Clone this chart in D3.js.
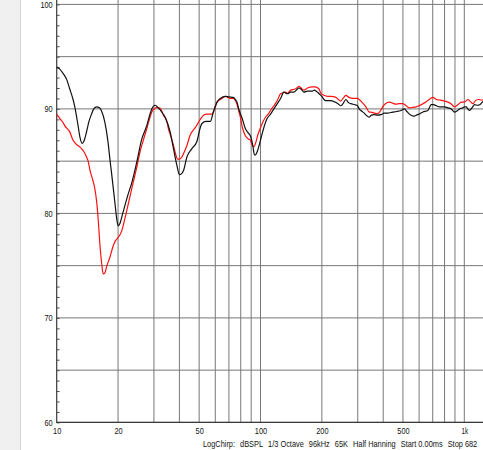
<!DOCTYPE html>
<html><head><meta charset="utf-8">
<script src="https://cdn.jsdelivr.net/npm/d3@7"></script>
<style>html,body{margin:0;padding:0;background:#fff;}svg{display:block;}</style>
</head><body>
<svg id="chart" width="483" height="450"></svg>
<script>
// ---- data ----
const freqBlack = [10,10.35,10.74,11.2,11.59,12.03,12.27,12.73,13.0,13.32,13.6,14.01,14.4,14.82,15.2,15.69,16.2,16.6,17.24,17.89,18.24,18.6,19.31,19.7,20.04,20.4,20.83,21.5,22.38,23.33,24.7,26.14,27.66,28.5,29.28,30.4,31.55,32.8,34.04,36.03,37.41,38.88,40.04,41.0,41.91,43.54,46.08,48.78,50.61,51.6,54.0,56.71,58.68,61.2,63.53,67.24,70,73.62,75.3,76.77,78.18,81.26,84.36,87.0,89.29,91.66,93.42,94.5,96.32,100,103.8,107.9,112,116.3,120.9,125.5,130.3,135.4,140.5,145.9,150,154.4,158,163.4,169.8,175,179.8,183.1,188,193.8,200,205,209,220,229.7,240,247.8,254,262.3,270,277.6,290,299.5,305,313,322.8,330,341.6,350,361.5,375.8,390.1,405,420.9,445.5,465,489.4,508,520,537.7,555,569.2,580.2,600,626.1,662.6,687.8,706.1,730,755.6,799.8,830,862.9,895.7,913.2,948,980,1003,1023,1040,1062,1090,1124,1160,1190,1236,1259,1300];
const dbBlack = [94.0,93.8,93.4,92.8,91.9,90.9,90.2,88.4,87.3,86.7,86.9,87.8,88.8,89.5,90.0,90.2,90.1,89.8,88.7,86.7,85.2,83.8,81.0,79.5,78.8,79.0,79.6,80.6,81.8,82.9,84.9,87.1,88.4,89.3,90.0,90.35,90.1,89.7,89.2,87.8,86.2,84.6,83.7,83.8,84.1,85.4,86.2,86.9,88.2,88.6,88.8,88.8,89.7,90.65,91.0,91.2,91.15,91.1,90.9,90.6,90.0,89.1,88.1,87.7,87.4,86.5,85.6,85.6,85.9,87.0,88.2,89.1,89.5,90.0,90.5,91.0,91.6,91.45,91.6,91.6,91.8,92.0,91.9,91.6,91.7,91.7,91.7,91.8,91.7,91.45,91.2,90.9,90.8,90.8,90.7,90.5,90.3,90.5,90.9,90.6,90.5,90.4,90.3,90.0,89.8,89.6,89.4,89.2,89.4,89.45,89.4,89.45,89.6,89.6,89.7,89.75,89.85,90.0,89.8,89.5,89.35,89.3,89.4,89.5,89.7,89.85,90.4,90.4,90.3,90.2,90.2,90.1,90.0,89.7,89.75,90.0,90.1,90.2,90.2,90.0,89.85,90.1,90.4,90.35,90.4,90.7,90.75,90.8];

const freqRed = [10,10.35,10.74,10.95,11.59,12.03,12.5,13.24,13.6,14.01,14.27,14.54,14.92,15.3,15.69,16.0,16.28,16.6,16.91,17.24,17.57,18.24,18.94,19.31,20.04,20.83,21.6,22.45,23.5,24.7,25.64,26.6,27.66,28.5,29.28,30.4,30.99,32.17,33.4,34.71,35.34,36.4,37.41,38.3,39.14,40.1,41.15,42.3,43.54,45.2,46.5,47.84,50.61,52.55,54.62,57.82,59.5,61.2,64.76,67.24,71.15,73.5,75.3,76.8,78.18,79.7,81.26,84.36,87.59,89.29,91.66,93.0,94.49,97,100,103,105.8,110,112,116.3,120.9,125.5,132.8,136,140.5,148,154.4,158,163.4,170,179.8,185,193.8,197.5,205,213.1,222,234.2,247.8,254,262.3,272,283,299.5,305,316,329,341.6,348.3,361.5,375.8,390,397.7,410,428.6,445.5,462.4,480,498.9,515,537.7,560,580.2,600,614.1,640,662.6,701.2,730,755.6,800,831.2,860,895.7,930,966.5,1000,1043,1070,1104,1130,1168,1210,1259,1300];
const dbRed = [89.5,89.1,88.7,88.4,87.8,87.0,86.6,86.2,85.9,85.4,85.0,84.2,83.4,82.6,81.2,79.3,77.1,75.3,74.2,74.3,74.9,75.8,76.9,77.3,77.7,78.3,79.5,80.9,82.6,84.4,85.9,87.0,88.1,89.0,89.7,90.05,90.15,90.05,89.4,88.8,88.1,87.3,86.5,85.7,85.2,85.2,85.4,85.9,86.5,87.5,87.9,88.2,89.0,89.4,89.5,89.5,90.0,90.65,91.0,91.2,91.0,91.0,90.8,90.4,89.8,89.2,88.3,87.4,87.1,87.0,86.4,86.4,86.7,87.5,88.2,88.8,89.2,89.6,89.85,90.3,90.8,91.45,91.6,91.5,91.8,91.9,92.15,92.0,91.8,92.0,92.1,92.1,91.9,91.5,91.3,91.2,91.2,91.1,90.75,91.0,91.3,91.1,91.0,91.0,90.9,90.6,90.2,89.7,89.7,89.6,89.55,89.9,90.2,90.5,90.65,90.55,90.45,90.5,90.5,90.35,90.1,90.15,90.2,90.3,90.4,90.6,90.8,91.1,90.9,90.85,90.75,90.65,90.5,90.2,90.4,90.65,90.65,90.9,90.7,90.5,90.75,90.9,90.85,90.85,90.9];

const yLabelValues = [60,70,80,90,100];
const yGridValues = [60,65,70,75,80,85,90,95,100];
const yMinorValues = d3.range(60,101,1);
const xLabelValues = [10,20,50,100,200,500,1000];
const xLabelText = ["10","20","50","100","200","500","1k"];
const xGridValues = [20,30,40,50,60,70,80,90,100,200,300,400,500,600,700,800,900,1000,2000];
const footerTokens = ["LogChirp:","dBSPL","1/3 Octave","96kHz","65K","Half Hanning","Start 0.00ms","Stop 682"];

// ---- layout ----
const W = 483, H = 450;
const svg = d3.select("#chart");
const FONT = "'Liberation Sans',Arial,sans-serif";
const charW = 4.1;

const x = d3.scaleLog().domain([10,1000]).range([56.7, 464.3]);
const y = d3.scaleLinear().domain([60,100]).range([422.4, 4.4]);

// left grey panel
svg.append("rect").attr("x",0).attr("y",0).attr("width",20).attr("height",H).attr("fill","#f0f0f0");
svg.append("line").attr("x1",20.5).attr("x2",20.5).attr("y1",0).attr("y2",H).attr("stroke","#d4d4d4");

// plot clip
svg.append("defs").append("clipPath").attr("id","plotclip")
  .append("rect").attr("x",x(10)).attr("y",0).attr("width",W - x(10)).attr("height",y(60));

const grid = svg.append("g").attr("clip-path","url(#plotclip)");
grid.selectAll("line.h").data(yGridValues).join("line")
  .attr("x1",x(10)).attr("x2",W)
  .attr("y1",d=>y(d)).attr("y2",d=>y(d))
  .attr("stroke","#777").attr("stroke-width",1);
grid.selectAll("line.v").data(xGridValues).join("line")
  .attr("x1",d=>x(d)).attr("x2",d=>x(d))
  .attr("y1",0).attr("y2",y(60))
  .attr("stroke","#777").attr("stroke-width",1);

// minor ticks (y)
const minorAxis = d3.axisRight(y).tickValues(yMinorValues).tickSize(3).tickFormat("");
svg.append("g").attr("transform",`translate(${x(10)},0)`).call(minorAxis)
  .call(g=>g.select(".domain").remove())
  .call(g=>g.selectAll("line").attr("stroke","#555"));

// axes lines
svg.append("line").attr("x1",x(10)).attr("x2",x(10)).attr("y1",0).attr("y2",y(60)+0.5)
  .attr("stroke","#3a3a3a").attr("stroke-width",1.2);
svg.append("line").attr("x1",x(10)).attr("x2",W).attr("y1",y(60)).attr("y2",y(60))
  .attr("stroke","#3a3a3a").attr("stroke-width",1.4);

// y labels
const yAxis = d3.axisLeft(y).tickValues(yLabelValues).tickSize(0).tickPadding(4).tickFormat(d3.format("d"));
svg.append("g").attr("transform",`translate(${x(10)},0)`).call(yAxis)
  .call(g=>g.select(".domain").remove())
  .call(g=>g.selectAll("text").attr("font-family",FONT).attr("font-size","9.5px").attr("fill","#111")
    .attr("lengthAdjust","spacingAndGlyphs").attr("textLength",d=>String(d).length*charW));

// x labels
const xAxis = d3.axisBottom(x).tickValues(xLabelValues).tickSize(0).tickPadding(5)
  .tickFormat((d,i)=>xLabelText[i]);
svg.append("g").attr("transform",`translate(0,${y(60)})`).call(xAxis)
  .call(g=>g.select(".domain").remove())
  .call(g=>g.selectAll("text").attr("font-family",FONT).attr("font-size","9.5px").attr("fill","#111")
    .attr("lengthAdjust","spacingAndGlyphs").attr("textLength",(d,i)=>xLabelText[i].length*(xLabelText[i]==="1k"?3.3:charW)));

// curves
const line = d3.line().x(d=>x(d[0])).y(d=>y(d[1])).curve(d3.curveMonotoneX);
const curves = svg.append("g").attr("clip-path","url(#plotclip)");
curves.append("path").datum(d3.zip(freqRed, dbRed))
  .attr("d",line).attr("fill","none").attr("stroke","#ff1010").attr("stroke-width",1.2);
curves.append("path").datum(d3.zip(freqBlack, dbBlack))
  .attr("d",line).attr("fill","none").attr("stroke","#111").attr("stroke-width",1.2);

// footer: tokens laid out left to right in a slightly condensed face
const footStart = 203, footGap = 5, footScale = 0.87;
let cx = footStart;
svg.append("g").selectAll("text").data(footerTokens).join("text")
  .attr("font-family",FONT).attr("font-size","8.5px").attr("fill","#111")
  .text(d=>d)
  .attr("transform",function(){
    const t = `translate(${cx},447) scale(${footScale},1)`;
    cx += this.getComputedTextLength()*footScale + footGap;
    return t;
  });
</script>
</body></html>
